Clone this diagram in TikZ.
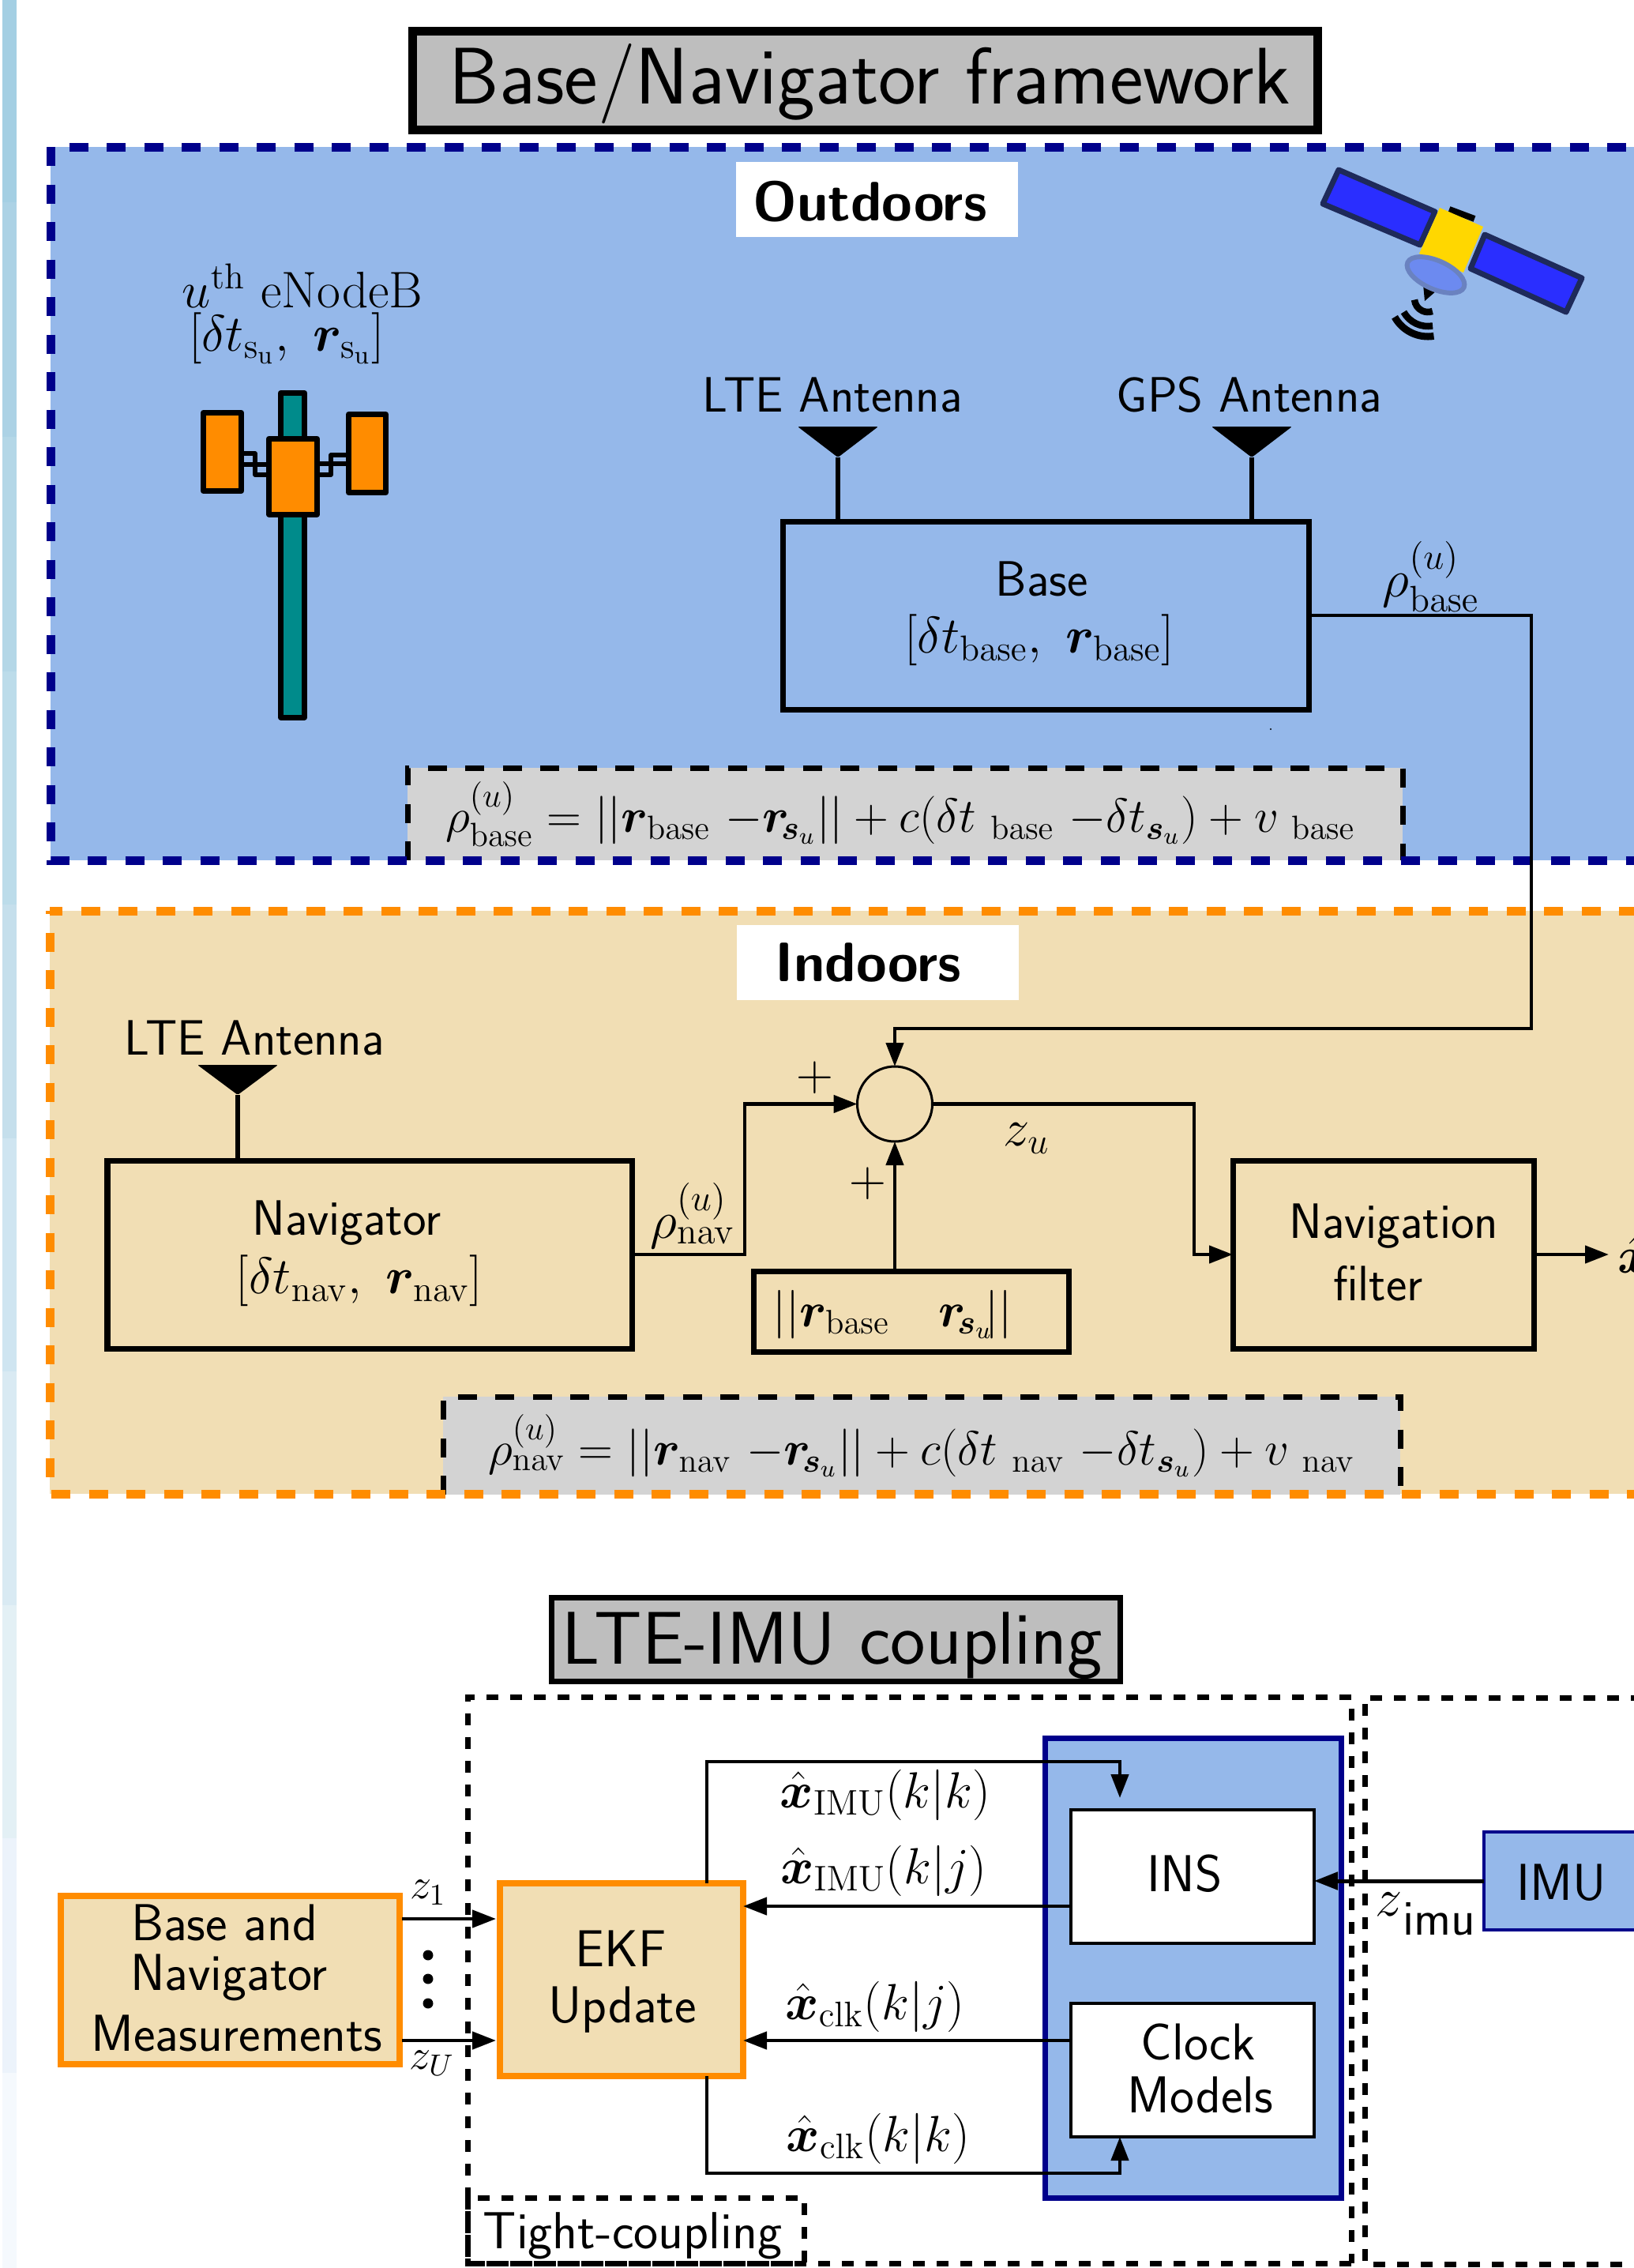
\documentclass[tikz,border=0pt]{standalone}
\usepackage{fix-cm}
\usepackage{amsmath,bm}
\usetikzlibrary{arrows.meta}
\definecolor{skyfill}{HTML}{95B8EA}
\definecolor{wheatfill}{HTML}{F1DEB4}
\definecolor{navyline}{HTML}{00008B}
\definecolor{orangeline}{HTML}{FF8C00}
\definecolor{tealfill}{HTML}{008B8B}
\definecolor{titlefill}{HTML}{BEBEBE}
\definecolor{eqfill}{HTML}{D3D3D3}
\definecolor{panelblue}{HTML}{2A2EFF}
\definecolor{panelline}{HTML}{1E2A5A}
\definecolor{bodyyellow}{HTML}{FFD700}
\definecolor{dishfill}{HTML}{6C8AF0}
\definecolor{dishline}{HTML}{6A82C0}
\newcommand{\fs}[1]{\fontsize{#1}{#1}\selectfont}
\tikzset{
	every node/.style = {outer sep = 0},
	block/.style = {draw, line width = 0.07cm},
	lowblock/.style = {draw, line width = 0.04cm, fill = white},
	orangeblock/.style = {draw = orangeline, line width = 0.08cm, fill = wheatfill},
	navyblock/.style = {draw = navyline, fill = skyfill},
	bigtitle/.style = {draw, fill = titlefill, font = \sffamily\fs{28.9}},
	tag/.style = {fill = white, font = \sffamily\bfseries\fs{20}},
	eqbox/.style = {fill = eqfill, font = \fs{17.3}},
	eqdash/.style = {line width = 0.07cm, dash pattern = on 0.24cm off 0.235cm},
	label/.style = {font = \sffamily\fs{17.9}, inner sep = 0},
	lowlabel/.style = {font = \sffamily\fs{18.7}, inner sep = 0},
	mathlabel/.style = {font = \fs{18.5}, inner sep = 0},
	wire/.style = {line width = 0.045cm},
	link/.style = {wire, -{Triangle[length=0.3cm,width=0.22cm]}},
	zonedash/.style = {line width = 0.11cm, dash pattern = on 0.24cm off 0.235cm},
	boxdash/.style = {line width = 0.07cm, dash pattern = on 0.15cm off 0.15cm},
	towerpart/.style = {draw, line width = 0.07cm, line join = round},
}
\begin{document}
\begin{tikzpicture}[y = -1cm]
	\useasboundingbox (0,0) rectangle (20.69,28.71);
	\clip (0,0) rectangle (20.69,28.71);
	% strip on the left
	\foreach \ytop/\ybot/\stripcolor in {0/2.56/A4CFE3, 2.56/5.53/ACD2E5, 5.53/8.50/B4D7E7, 8.50/11.45/BCDCEA, 11.45/14.41/C5DFEC, 14.41/17.36/CFE5F1, 17.36/20.32/D9EAF3, 20.32/23.27/E3F0F5, 23.27/26.24/ECF3FB, 26.24/28.71/F5F9FD}{
	\definecolor{stripnow}{HTML}{\stripcolor}
	\fill [stripnow] (0.03,\ytop) rectangle (0.21,\ybot);
	}
	% title
	\node [bigtitle, line width = 0.11cm, minimum width = 11.46cm, minimum height = 1.25cm, text height = 0.6cm, text depth = 0cm] (maintitle) at (10.95,1.015) {\hspace*{0.13cm}Base/Navigator framework};
	% outdoors zone
	\fill [skyfill] (0.64,1.86) rectangle (22,10.89);
	\node [eqbox, minimum width = 12.6cm, minimum height = 1.17cm] (eqbase) at (11.46,10.305) {$\rho_{\mathrm{base}}^{(u)} = ||\bm{r}_{\mathrm{base}}\ {-}\bm{r}\!_{\bm{s}_u}|| + c(\delta t_{\ \mathrm{base}}\ {-}\delta t_{\bm{s}_u}) + v_{\ \mathrm{base}}$\hspace*{0.12cm}};
	\draw [eqdash] (eqbase.south west) -- (eqbase.north west) -- (eqbase.north east) -- (eqbase.south east);
	\draw [zonedash, navyline] (0.64,1.86) -- (0.64,10.89) -- (22,10.89);
	\draw [zonedash, navyline, dash phase = 0.24cm] (0.64,1.86) -- (22,1.86);
	\node [tag, minimum width = 3.57cm, minimum height = 0.95cm, text height = 0.53cm, text depth = 0cm] (outdoorstag) at (11.105,2.525) {Outdoors\hspace*{0.18cm}};
	% eNodeB
	\node [mathlabel] (enodebname) at (3.83,3.62) {$u^{\mathrm{th}}$ eNodeB};
	\node [mathlabel] (enodebstate) at (3.63,4.28) {$[\delta t_{\mathrm{s_u}},\ \bm{r}_{\mathrm{s_u}}]$};
	\draw [towerpart, fill = tealfill] (3.555,4.975) rectangle (3.855,9.08);
	\draw [towerpart, line width = 0.055cm] (3.05,5.74) -- (3.23,5.74) -- (3.23,6.01) -- (3.40,6.01);
	\draw [towerpart, line width = 0.055cm] (3.05,5.88) -- (3.40,5.88);
	\draw [towerpart, line width = 0.055cm] (4.41,5.76) -- (4.19,5.76) -- (4.19,6.01) -- (4.02,6.01);
	\draw [towerpart, line width = 0.055cm] (4.41,5.87) -- (4.02,5.87);
	\draw [towerpart, fill = orangeline] (2.575,5.225) rectangle (3.055,6.215);
	\draw [towerpart, fill = orangeline] (4.415,5.245) rectangle (4.885,6.235);
	\draw [towerpart, fill = orangeline] (3.405,5.555) rectangle (4.015,6.51);
	% satellite
	\draw [line width = 0.07cm, panelline, fill = panelblue, line join = round] (16.95,2.15) -- (18.17,2.68) -- (17.98,3.10) -- (16.75,2.58) -- cycle;
	\draw [line width = 0.07cm, panelline, fill = panelblue, line join = round] (18.80,2.97) -- (20.03,3.52) -- (19.83,3.95) -- (18.62,3.40) -- cycle;
	\draw [line width = 0.08cm] (18.35,2.65) -- (18.67,2.77);
	\fill [bodyyellow] (18.23,2.63) -- (18.78,2.87) -- (18.53,3.45) -- (17.97,3.21) -- cycle;
	\fill (18.02,3.60) -- (18.19,3.68) -- (18.04,3.81) -- cycle;
	\draw [line width = 0.06cm, dishline, fill = dishfill, rotate around = {-24:(18.18,3.48)}] (18.18,3.48) ellipse (0.39 and 0.18);
	\draw [line width = 0.085cm] (18.08,3.78) ++(-185:0.17) arc (-185:-290:0.17);
	\draw [line width = 0.085cm] (18.08,3.78) ++(-209:0.35) arc (-209:-280:0.35);
	\draw [line width = 0.09cm] (18.08,3.78) ++(-209:0.48) arc (-209:-279:0.48);
	% base
	\node [label] (ltebasetext) at (10.54,5.00) {LTE Antenna};
	\node [label] (gpstext) at (15.82,5.00) {GPS Antenna};
	\node [block, minimum width = 6.66cm, minimum height = 2.38cm] (baseblock) at (13.24,7.79) {};
	\node [label] (basename) at (13.19,7.33) {Base};
	\node [mathlabel] (basestate) at (13.16,8.10) {$[\delta t_{\mathrm{base}},\ \bm{r}_{\mathrm{base}}]$};
	\coordinate (ltetip) at (10.61,5.79);
	\coordinate (gpstip) at (15.85,5.79);
	\foreach \tip in {ltetip,gpstip}{
	\fill [rounded corners = 0.02cm] (\tip) -- ++(-0.51,-0.39) -- ++(1.02,0) -- cycle;
	\draw [line width = 0.065cm] (\tip) -- (\tip |- baseblock.north);
	}
	\node [mathlabel, font = \fs{19}] (rhobase) at (18.12,7.30) {$\rho_{\mathrm{base}}^{(u)}$};
	\fill (16.09,9.23) circle (0.012);
	% indoors zone
	\fill [wheatfill] (0.63,11.53) rectangle (22,18.91);
	\node [eqbox, minimum width = 12.12cm, minimum height = 1.24cm] (eqnav) at (11.67,18.30) {$\rho_{\mathrm{nav}}^{(u)} = ||\bm{r}_{\mathrm{nav}}\ {-}\bm{r}\!_{\bm{s}_u}|| + c(\delta t_{\ \mathrm{nav}}\ {-}\delta t_{\bm{s}_u}) + v_{\ \mathrm{nav}}$};
	\draw [eqdash] (eqnav.south west) -- (eqnav.north west) -- (eqnav.north east) -- (eqnav.south east);
	\draw [zonedash, orangeline, dash phase = 0.20cm] (0.63,11.53) -- (0.63,18.91) -- (22,18.91);
	\draw [zonedash, orangeline, dash phase = 0.08cm] (0.63,11.53) -- (22,11.53);
	\node [tag, minimum width = 3.57cm, minimum height = 0.95cm, text height = 0.47cm, text depth = 0cm] (indoorstag) at (11.115,12.185) {Indoors\hspace*{0.24cm}};
	\node [label] (ltenavtext) at (3.22,13.14) {LTE Antenna};
	\node [block, minimum width = 6.64cm, minimum height = 2.38cm] (navblock) at (4.68,15.88) {};
	\node [label] (navname) at (4.39,15.48) {Navigator};
	\node [mathlabel] (navstate) at (4.55,16.21) {$[\delta t_{\mathrm{nav}},\ \bm{r}_{\mathrm{nav}}]$};
	\coordinate (navtip) at (3.01,13.86);
	\fill [rounded corners = 0.02cm] (navtip) -- ++(-0.51,-0.38) -- ++(1.02,0) -- cycle;
	\draw [line width = 0.065cm] (navtip) -- (navtip |- navblock.north);
	\node [draw, circle, line width = 0.03cm, minimum size = 0.95cm, inner sep = 0] (sumnode) at (11.33,13.975) {};
	\node [block, minimum width = 3.81cm, minimum height = 2.38cm] (filterblock) at (17.515,15.88) {};
	\node [label] (filtername) at (17.65,15.52) {Navigation};
	\node [label] (filtername2) at (17.45,16.25) {filter};
	\node [block, minimum width = 3.99cm, minimum height = 1.02cm] (normblock) at (11.535,16.6) {};
	\node [mathlabel, font = \fs{17.5}] (normtext) at (11.3,16.64) {$||\bm{r}_{\mathrm{base}}\quad \bm{r}\!_{\bm{s}_u}\!||$};
	\node [mathlabel, anchor = west, inner sep = 0.11cm] (xhatout) at (20.37,15.88) {$\hat{\bm{x}}$};
	\node [mathlabel, font = \fs{19}] (rhonav) at (8.77,15.39) {$\rho_{\mathrm{nav}}^{(u)}$};
	\node [mathlabel] (plusleft) at (10.32,13.64) {$+$};
	\node [mathlabel] (plusdown) at (10.99,14.98) {$+$};
	\node [mathlabel, font = \fs{19}] (zuout) at (13.0,14.41) {$z_u$};
	\coordinate (basebend) at (19.39,13.02);
	\coordinate (navbend) at (9.43,13.975);
	\coordinate (filterbend) at (15.12,15.88);
	\draw [link] (baseblock.east) -| (basebend) -| (sumnode.north);
	\draw [link] (navblock.east) -| (navbend) -- (sumnode.west);
	\draw [link] (sumnode |- normblock.north) -- (sumnode.south);
	\draw [link] (sumnode.east) -| (filterbend) -- (filterblock.west);
	\draw [link] (filterblock.east) -- (xhatout.west);
	% coupling
	\node [bigtitle, line width = 0.07cm, font = \sffamily\fs{26.9}, minimum width = 7.2cm, minimum height = 1.06cm, text height = 0.61cm, text depth = 0cm] (lowtitle) at (10.585,20.755) {LTE-IMU coupling\hspace*{0.09cm}};
	\draw [boxdash] (17.11,28.65) -- (5.92,28.65) -- (5.92,21.48) -- (17.11,21.48) -- cycle;
	\draw [boxdash] (22,21.49) -- (17.28,21.49) -- (17.28,28.66) -- (22,28.66);
	\draw [boxdash] (5.92,27.82) rectangle (10.18,28.65);
	\node [label, font = \sffamily\fs{18.8}] (tighttext) at (8.01,28.30) {Tight-coupling};
	\node [navyblock, line width = 0.07cm, minimum width = 3.75cm, minimum height = 5.82cm] (clusterblock) at (15.105,24.91) {};
	\node [lowblock, minimum width = 3.08cm, minimum height = 1.69cm] (insblock) at (15.10,23.755) {};
	\node [lowlabel] (instext) at (15.0,23.72) {INS};
	\node [lowblock, minimum width = 3.08cm, minimum height = 1.69cm] (clockblock) at (15.10,26.205) {};
	\node [lowlabel] (clocktext) at (15.17,25.85) {Clock};
	\node [lowlabel] (modelstext) at (15.20,26.52) {Models};
	\node [orangeblock, minimum width = 3.08cm, minimum height = 2.44cm] (ekfblock) at (7.87,25.06) {};
	\node [lowlabel] (ekftext) at (7.86,24.67) {EKF};
	\node [lowlabel] (updatetext) at (7.88,25.44) {Update};
	\node [orangeblock, minimum width = 4.29cm, minimum height = 2.13cm] (measblock) at (2.915,25.065) {};
	\node [lowlabel] (meastext1) at (2.84,24.34) {Base and};
	\node [lowlabel] (meastext2) at (2.90,25.03) {Navigator};
	\node [lowlabel] (meastext3) at (3.00,25.74) {Measurements};
	\node [navyblock, line width = 0.04cm, minimum width = 2.21cm, minimum height = 1.24cm] (imublock) at (19.895,23.81) {};
	\node [lowlabel] (imutext) at (19.77,23.83) {IMU};
	\node [mathlabel, font = \fs{19.5}] (zimutext) at (18.05,24.23) {$z$\raisebox{-0.35em}{\sffamily\fs{18}imu}};
	\node [mathlabel, font = \fs{15.5}] (zonetext) at (5.42,23.96) {$z_1$};
	\node [mathlabel, font = \fs{15.5}] (zutext) at (5.47,26.12) {$z_U$};
	\foreach \doty in {24.75,25.05,25.36}{
	\fill (5.42,\doty) circle (0.065);
	}
	\node [mathlabel, font = \fs{18.3}] (xins1) at (11.21,22.72) {$\hat{\bm{x}}_{\mathrm{IMU}}(k|k)$};
	\node [mathlabel, font = \fs{18.3}] (xins2) at (11.19,23.68) {$\hat{\bm{x}}_{\mathrm{IMU}}(k|j)$};
	\node [mathlabel, font = \fs{18.3}] (xclk1) at (11.08,25.40) {$\hat{\bm{x}}_{\mathrm{clk}}(k|j)$};
	\node [mathlabel, font = \fs{18.3}] (xclk2) at (11.12,27.07) {$\hat{\bm{x}}_{\mathrm{clk}}(k|k)$};
	\coordinate (loopup) at (8.95,22.30);
	\coordinate (loopdown) at (8.95,27.51);
	\coordinate (insin) at (14.18,22.76);
	\coordinate (insout) at (13.56,24.13);
	\coordinate (clockout) at (13.56,25.83);
	\coordinate (measup) at (5.09,24.29);
	\coordinate (measdown) at (5.09,25.83);
	\draw [link] (loopup |- ekfblock.north) -- (loopup) -| (insin);
	\draw [link] (loopdown |- ekfblock.south) -- (loopdown) -| (insin |- clockblock.south);
	\draw [link] (insout) -- (insout -| ekfblock.east);
	\draw [link] (clockout) -- (clockout -| ekfblock.east);
	\draw [link, shorten >= 0.05cm] (measup) -- (measup -| ekfblock.west);
	\draw [link, shorten >= 0.05cm] (measdown) -- (measdown -| ekfblock.west);
	\draw [link, line width = 0.05cm] (imublock.west) -- (imublock.west -| insblock.east);
\end{tikzpicture}
\end{document}
